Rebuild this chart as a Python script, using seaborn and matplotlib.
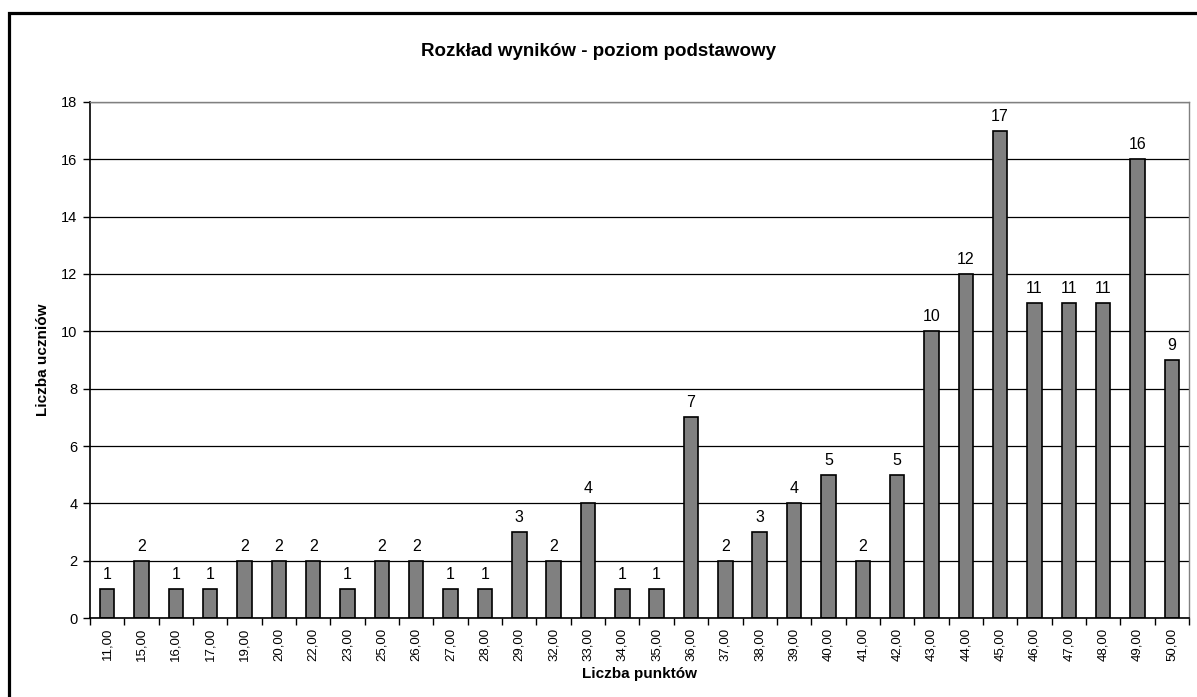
import matplotlib
matplotlib.use("Agg")
import matplotlib.pyplot as plt
import seaborn as sns
import pandas as pd
from matplotlib.patches import Rectangle
from matplotlib.ticker import FixedLocator, NullFormatter

points = ["11,00", "15,00", "16,00", "17,00", "19,00", "20,00", "22,00", "23,00",
          "25,00", "26,00", "27,00", "28,00", "29,00", "32,00", "33,00", "34,00",
          "35,00", "36,00", "37,00", "38,00", "39,00", "40,00", "41,00", "42,00",
          "43,00", "44,00", "45,00", "46,00", "47,00", "48,00", "49,00", "50,00"]
counts = [1, 2, 1, 1, 2, 2, 2, 1, 2, 2, 1, 1, 3, 2, 4, 1, 1, 7, 2, 3, 4, 5, 2, 5,
          10, 12, 17, 11, 11, 11, 16, 9]
yticks = [0, 2, 4, 6, 8, 10, 12, 14, 16, 18]

title = "Rozkład wyników - poziom podstawowy"
xlabel = "Liczba punktów"
ylabel = "Liczba uczniów"

sns.set_theme(style="white")
plt.rcParams["font.family"] = ["Liberation Sans", "DejaVu Sans"]
plt.rcParams["text.color"] = "black"
plt.rcParams["axes.labelcolor"] = "black"
plt.rcParams["xtick.color"] = "black"
plt.rcParams["ytick.color"] = "black"

df = pd.DataFrame({"pkt": points, "n": counts})

fig = plt.figure(figsize=(11.97, 6.97), dpi=100)
ax = fig.add_axes([0.0752, 0.1133, 0.9933 - 0.0752, 0.8537 - 0.1133])

sns.barplot(data=df, x="pkt", y="n", order=points, color="#808080",
            saturation=1, width=0.42, edgecolor="black", linewidth=1.2, ax=ax)

ax.set_ylim(0, 18)
ax.set_xlim(-0.5, len(points) - 0.5)
ax.set_yticks(yticks)
ax.yaxis.grid(True, color="#000000", linewidth=0.9)
ax.set_axisbelow(True)
for c in ax.containers:
    ax.bar_label(c, labels=[str(v) for v in counts], padding=5, fontsize=11.5)

ax.tick_params(axis="y", labelsize=10.5, left=True, length=5, width=1, color="black", pad=4)
ax.tick_params(axis="x", labelsize=9.5, rotation=90, bottom=False, length=0, pad=7)
ax.xaxis.set_minor_locator(FixedLocator([i - 0.5 for i in range(len(points) + 1)]))
ax.xaxis.set_minor_formatter(NullFormatter())
ax.tick_params(axis="x", which="minor", bottom=True, length=5, width=1, color="black")

for side in ["left", "bottom"]:
    ax.spines[side].set_color("black")
    ax.spines[side].set_linewidth(1.2)
for side in ["top", "right"]:
    ax.spines[side].set_color("#808080")
    ax.spines[side].set_linewidth(1)

ax.set_xlabel(xlabel, fontsize=11, fontweight="bold", labelpad=4)
ax.set_ylabel(ylabel, fontsize=11, fontweight="bold", labelpad=8)
fig.text(0.5, 1 - 51 / 697, title, ha="center", va="center", fontsize=13.5, fontweight="bold")

fig.patches.append(Rectangle((9 / 1197, -0.1), 1.2, 1.1 - 13 / 697,
                             transform=fig.transFigure, fill=False,
                             edgecolor="black", linewidth=2.3))

fig.savefig("out.png", dpi=100)
